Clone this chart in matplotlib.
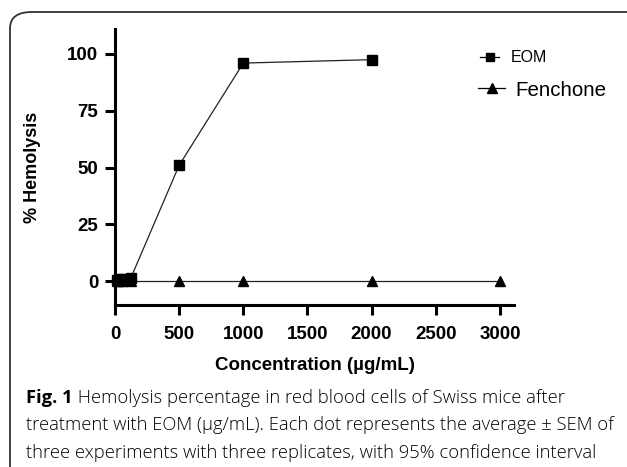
import matplotlib
matplotlib.use("Agg")
import matplotlib.pyplot as plt
from matplotlib.patches import FancyBboxPatch
from matplotlib.lines import Line2D

# Data
eom_x = [15.6, 31.25, 62.5, 125, 500, 1000, 2000]
eom_y = [0.6, 0.8, 1.0, 1.6, 51, 96, 97.5]
fen_x = [15.6, 31.25, 62.5, 125, 500, 1000, 2000, 3000]
fen_y = [0, 0, 0, 0, 0, 0, 0, 0]
xticks = [0, 500, 1000, 1500, 2000, 2500, 3000]
yticks = [0, 25, 50, 75, 100]
caption_bold = "Fig. 1"
caption_lines = [
    " Hemolysis percentage in red blood cells of Swiss mice after",
    "treatment with EOM (µg/mL). Each dot represents the average ± SEM of",
    "three experiments with three replicates, with 95% confidence interval",
]

W, H = 627, 467
fig = plt.figure(figsize=(W / 100, H / 100), dpi=100)
fig.patch.set_facecolor("white")

# rounded frame
box = FancyBboxPatch((10 / W, -0.2), 1.2, (H - 12) / H + 0.2,
                     boxstyle="round,pad=0,rounding_size=0.035",
                     transform=fig.transFigure, fill=False,
                     edgecolor="#333333", linewidth=1.3, clip_on=False)
fig.patches.append(box)

ax = fig.add_axes([115 / W, 1 - 305 / H, (514 - 115) / W, (305 - 29) / H])
ax.set_xlim(0, 3110)
ax.set_ylim(-10.5, 111)

ax.plot(eom_x, eom_y, color="#222222", linewidth=0.9, marker="s",
        markersize=6.5, markerfacecolor="black", markeredgecolor="black",
        clip_on=False, zorder=3)
ax.plot(fen_x, fen_y, color="#222222", linewidth=0.9, marker="^",
        markersize=7, markerfacecolor="black", markeredgecolor="black",
        clip_on=False, zorder=2)
ax.plot([0, fen_x[0]], [0, 0], color="#222222", linewidth=0.9, clip_on=False)

for s in ["top", "right"]:
    ax.spines[s].set_visible(False)
for s in ["left", "bottom"]:
    ax.spines[s].set_linewidth(2.2)
    ax.spines[s].set_color("black")

ax.set_xticks(xticks)
ax.set_yticks(yticks)
ax.tick_params(axis="both", direction="out", length=7, width=2.2,
               labelsize=13.5)
ax.tick_params(axis="x", pad=8)
ax.tick_params(axis="y", pad=5)
for lab in ax.get_xticklabels() + ax.get_yticklabels():
    lab.set_fontfamily("Liberation Sans")
    lab.set_fontweight("bold")

ax.set_xlabel("Concentration (µg/mL)", fontsize=13.5, fontweight="bold",
              fontfamily="Liberation Sans", labelpad=10)
ax.set_ylabel("% Hemolysis", fontsize=13, fontweight="bold",
              fontfamily="Liberation Sans", labelpad=19)

h1 = Line2D([], [], color="black", linewidth=0.9, marker="s", markersize=6)
h2 = Line2D([], [], color="black", linewidth=0.9, marker="^", markersize=7)
leg1 = fig.legend([h1], ["EOM"], loc="center left",
                  bbox_to_anchor=(472 / W, 1 - 58 / H), frameon=False,
                  handlelength=1.2, handletextpad=0.7, borderpad=0,
                  prop={"family": "Liberation Sans", "size": 11.5})
leg2 = fig.legend([h2], ["Fenchone"], loc="center left",
                  bbox_to_anchor=(468 / W, 1 - 90 / H), frameon=False,
                  handlelength=1.3, handletextpad=0.5, borderpad=0,
                  prop={"family": "Liberation Sans", "size": 14.8})

# caption
fs = 13.2
fam = "Open Sans"
y0 = 1 - 398 / H
dy = 27.5 / H
t = fig.text(26 / W, y0, caption_bold, fontsize=fs, fontweight="bold",
             fontfamily=fam, va="center", ha="left")
fig.canvas.draw()
bb = t.get_window_extent()
fig.text(bb.x1 / W, y0, caption_lines[0], fontsize=fs, fontweight="light",
         fontfamily=fam, va="center", ha="left")
fig.text(26 / W, y0 - dy, caption_lines[1], fontsize=fs, fontweight="light",
         fontfamily=fam, va="center", ha="left")
fig.text(26 / W, y0 - 2 * dy, caption_lines[2], fontsize=fs, fontweight="light",
         fontfamily=fam, va="center", ha="left")

fig.savefig("out.png", dpi=100)
